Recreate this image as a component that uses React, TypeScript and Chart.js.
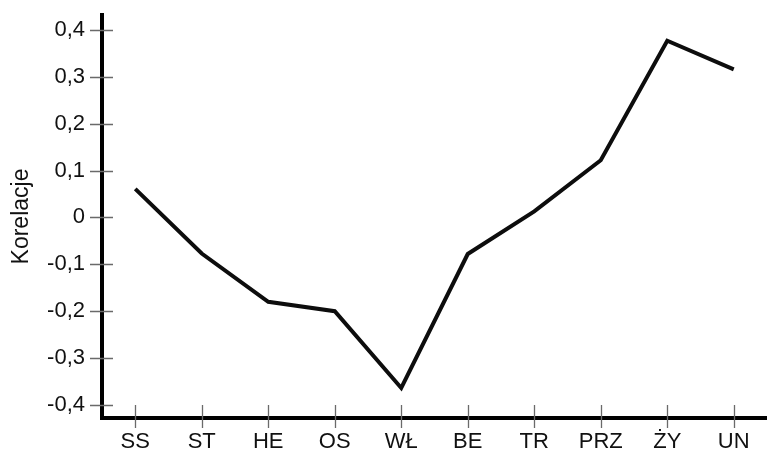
import React, { useEffect, useRef } from "react";
import { Chart, registerables } from "chart.js";

Chart.register(...registerables);

const categories = ["SS", "ST", "HE", "OS", "WŁ", "BE", "TR", "PRZ", "ŻY", "UN"];
const correlations = [0.061, -0.077, -0.18, -0.2, -0.364, -0.078, 0.013, 0.122, 0.377, 0.316];
const yTickValues = [-0.4, -0.3, -0.2, -0.1, 0, 0.1, 0.2, 0.3, 0.4];
const yMin = -0.428;
const yMax = 0.432;
const yTitle = "Korelacje";

const FONT = "'Liberation Sans', Arial, Helvetica, sans-serif";

function formatTick(v: number): string {
  if (Math.abs(v) < 1e-9) return "0";
  return v.toFixed(1).replace(".", ",");
}

const crossTicksPlugin = {
  id: "crossTicks",
  afterDraw(chart: any) {
    const ctx = chart.ctx;
    const area = chart.chartArea;
    const xs = chart.scales.x;
    const ys = chart.scales.y;
    ctx.save();
    ctx.strokeStyle = "#6a6a6a";
    ctx.lineWidth = 1.3;
    ctx.beginPath();
    for (const v of yTickValues) {
      const py = Math.round(ys.getPixelForValue(v)) + 0.5;
      ctx.moveTo(area.left - 12, py);
      ctx.lineTo(area.left + 11, py);
    }
    for (let i = 0; i < categories.length; i++) {
      const px = Math.round(xs.getPixelForValue(i)) + 0.5;
      ctx.moveTo(px, area.bottom - 13);
      ctx.lineTo(px, area.bottom + 10);
    }
    ctx.stroke();
    ctx.restore();
  },
};

export default function App() {
  const canvasRef = useRef<HTMLCanvasElement | null>(null);

  useEffect(() => {
    const canvas = canvasRef.current;
    if (!canvas) return;
    const chart = new Chart(canvas, {
      type: "line",
      data: {
        labels: categories,
        datasets: [
          {
            data: correlations,
            borderColor: "#0d0d0d",
            borderWidth: 4,
            pointRadius: 0,
            tension: 0,
            fill: false,
            borderJoinStyle: "miter",
          },
        ],
      },
      options: {
        animation: false,
        responsive: true,
        maintainAspectRatio: false,
        layout: { padding: { top: 15, right: 0, bottom: 0, left: 0 } },
        plugins: {
          legend: { display: false },
          tooltip: { enabled: false },
        },
        scales: {
          x: {
            type: "category",
            offset: true,
            grid: { display: false, drawTicks: false, drawOnChartArea: false },
            border: { display: true, width: 4, color: "#000000" },
            ticks: {
              color: "#111111",
              font: { family: FONT, size: 22 },
              padding: 11,
              maxRotation: 0,
              autoSkip: false,
            },
            afterFit: (scale: any) => {
              scale.height = 33;
              scale.paddingLeft = 0;
              scale.paddingRight = 0;
            },
          },
          y: {
            type: "linear",
            min: yMin,
            max: yMax,
            grid: { display: false, drawTicks: false, drawOnChartArea: false },
            border: { display: true, width: 4, color: "#000000" },
            ticks: {
              color: "#111111",
              font: { family: FONT, size: 22 },
              padding: 17,
              callback: (v: any) => formatTick(Number(v)),
            },
            afterBuildTicks: (scale: any) => {
              scale.ticks = yTickValues.map((v) => ({ value: v }));
            },
            afterFit: (scale: any) => {
              scale.width = 102;
              scale.paddingTop = 0;
              scale.paddingBottom = 0;
            },
            title: {
              display: true,
              text: yTitle,
              color: "#111111",
              font: { family: FONT, size: 23 },
              padding: { top: 8, bottom: 0 },
            },
          },
        },
      },
      plugins: [crossTicksPlugin],
    });
    return () => {
      chart.destroy();
    };
  }, []);

  return (
    <div
      style={{
        position: "fixed",
        left: 0,
        top: 0,
        width: 767,
        height: 451,
        background: "#ffffff",
      }}
    >
      <canvas ref={canvasRef} />
    </div>
  );
}
